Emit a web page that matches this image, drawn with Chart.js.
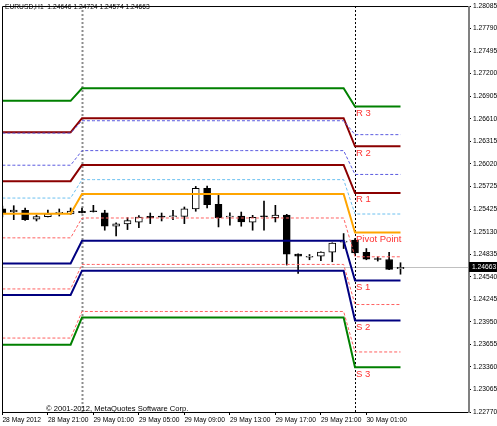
<!DOCTYPE html>
<html>
<head>
<meta charset="utf-8">
<script src="https://cdn.jsdelivr.net/npm/chart.js@4.4.1/dist/chart.umd.min.js"></script>
<style>
  html, body { margin: 0; padding: 0; background: #fff; }
  #chart { display: block; }
</style>
</head>
<body>
<canvas id="chart" width="497" height="426"></canvas>
<script>
const symbol = 'EURUSD,H1';
const copyright = '\u00a9 2001-2012, MetaQuotes Software Corp.';

// hourly bars, 28 May 17:00 .. 30 May 04:00
const opens  = [1.25431, 1.25388, 1.25411, 1.25293, 1.25327, 1.25371, 1.25362, 1.25398, 1.25395, 1.25379,
                1.25202, 1.25232, 1.25254, 1.25332, 1.25323, 1.25326, 1.25332, 1.25428, 1.25697, 1.25489,
                1.25323, 1.25336, 1.25254, 1.25330, 1.25314, 1.25349, 1.24837, 1.24796, 1.24811, 1.24863,
                1.24994, 1.25020, 1.24859, 1.24768, 1.24767, 1.24646];
const highs  = [1.25467, 1.25471, 1.25441, 1.25349, 1.25415, 1.25428, 1.25441, 1.25441, 1.25476, 1.25411,
                1.25245, 1.25314, 1.25343, 1.25375, 1.25375, 1.25411, 1.25454, 1.25723, 1.25727, 1.25606,
                1.25379, 1.25388, 1.25345, 1.25532, 1.25476, 1.25358, 1.24841, 1.24832, 1.24867, 1.24985,
                1.25106, 1.25041, 1.24910, 1.24802, 1.24859, 1.24724];
const lows   = [1.25323, 1.25288, 1.25278, 1.25271, 1.25323, 1.25336, 1.25356, 1.25375, 1.25388, 1.25150,
                1.25076, 1.25158, 1.25184, 1.25236, 1.25271, 1.25288, 1.25236, 1.25398, 1.25441, 1.25193,
                1.25215, 1.25202, 1.25150, 1.25150, 1.25258, 1.24694, 1.24585, 1.24763, 1.24750, 1.24737,
                1.24910, 1.24824, 1.24763, 1.24746, 1.24633, 1.24574];
const closes = [1.25375, 1.25415, 1.25288, 1.25327, 1.25366, 1.25379, 1.25401, 1.25379, 1.25392, 1.25202,
                1.25232, 1.25275, 1.25323, 1.25314, 1.25321, 1.25328, 1.25431, 1.25697, 1.25484, 1.25314,
                1.25332, 1.25258, 1.25319, 1.25326, 1.25349, 1.24837, 1.24811, 1.24800, 1.24863, 1.24981,
                1.25000, 1.24854, 1.24772, 1.24766, 1.24637, 1.24663];

// bars per day (28 May, 29 May, 30 May)
const dayBars = [7, 24, 5];

// daily pivot levels, one value per day
const r3    = [1.26844, 1.27008, 1.26769];
const m5    = [1.26421, 1.26583, 1.26401];
const r2    = [1.26431, 1.26617, 1.26248];
const m4    = [1.26001, 1.26192, 1.25880];
const r1    = [1.25792, 1.26005, 1.25636];
const m3    = [1.25571, 1.25812, 1.25362];
const pivot = [1.25366, 1.25623, 1.25119];
const m2    = [1.25050, 1.25310, 1.24802];
const s1    = [1.24715, 1.25011, 1.24490];
const m1    = [1.24381, 1.24702, 1.24177];
const s2    = [1.24303, 1.24620, 1.23969];
const m0    = [1.23738, 1.24086, 1.23556];
const s3    = [1.23652, 1.24008, 1.23356];

const xTickIdx = [0, 4, 8, 12, 16, 20, 24, 28, 32];
const xTickLabels = ['28 May 2012', '28 May 21:00', '29 May 01:00', '29 May 05:00', '29 May 09:00',
                     '29 May 13:00', '29 May 17:00', '29 May 21:00', '30 May 01:00'];
const yTickLabels = ['1.22770', '1.23065', '1.23360', '1.23655', '1.23950', '1.24245', '1.24540',
                     '1.24835', '1.25130', '1.25425', '1.25725', '1.26020', '1.26315', '1.26610',
                     '1.26905', '1.27200', '1.27495', '1.27790', '1.28085'];
const yTickVals = yTickLabels.map(Number);

const FONT = 'Liberation Sans, Arial, sans-serif';

const barDay = [];
dayBars.forEach((n, d) => { for (let k = 0; k < n; k++) barDay.push(d); });
const series = lv => barDay.map((d, i) => ({ x: i, y: lv[d] }));

function lvl(levels, color, width, dash) {
  return {
    type: 'line', data: series(levels), borderColor: color, borderWidth: width,
    borderDash: dash || [], pointRadius: 0, tension: 0, fill: false, order: 0
  };
}

const labelled = [
  ['R 3', r3], ['R 2', r2], ['R 1', r1], ['Pivot Point', pivot], ['S 1', s1], ['S 2', s2], ['S 3', s3]
];

const decor = {
  id: 'decor',
  beforeDatasetsDraw(chart) {
    const { ctx, chartArea: a, scales: { x, y } } = chart;
    ctx.save();
    // bid line
    const by = Math.round(y.getPixelForValue(closes[closes.length - 1])) + 0.5;
    ctx.strokeStyle = '#c0c0c0';
    ctx.lineWidth = 1;
    ctx.beginPath(); ctx.moveTo(a.left, by); ctx.lineTo(a.right, by); ctx.stroke();
    // period separators
    let start = 0;
    dayBars.slice(0, -1).forEach((n, k) => {
      start += n;
      const px = Math.round(x.getPixelForValue(start)) + 0.5;
      ctx.strokeStyle = k === 0 ? '#8c8c8c' : '#000';
      ctx.lineWidth = k === 0 ? 2 : 1;
      ctx.setLineDash([2, 2]);
      ctx.beginPath(); ctx.moveTo(px, a.top); ctx.lineTo(px, a.bottom); ctx.stroke();
    });
    ctx.restore();
  },
  afterDatasetsDraw(chart) {
    const { ctx, scales: { x, y } } = chart;
    const last = dayBars.length - 1;
    const lx = x.getPixelForValue(dayBars[0] + dayBars[1]) + 1;
    ctx.save();
    ctx.fillStyle = '#ff3030';
    ctx.font = '9.5px ' + FONT;
    ctx.textBaseline = 'top';
    labelled.forEach(([name, lv]) => ctx.fillText(name, lx, y.getPixelForValue(lv[last]) + 2));
    ctx.restore();
  },
  afterDraw(chart) {
    const { ctx, chartArea: a, scales: { y } } = chart;
    ctx.save();
    // frame
    ctx.strokeStyle = '#000';
    ctx.lineWidth = 1;
    ctx.beginPath();
    ctx.moveTo(a.right, a.top + 0.5); ctx.lineTo(a.left + 0.5, a.top + 0.5);
    ctx.lineTo(a.left + 0.5, a.bottom + 0.5); ctx.lineTo(a.right, a.bottom + 0.5);
    ctx.stroke();
    ctx.strokeStyle = '#808080';
    ctx.lineWidth = 2;
    ctx.beginPath(); ctx.moveTo(a.right + 1, a.top); ctx.lineTo(a.right + 1, a.bottom + 1); ctx.stroke();
    // price box
    const n = closes.length - 1;
    const by = Math.round(y.getPixelForValue(closes[n]));
    ctx.fillStyle = '#000';
    ctx.fillRect(a.right + 1, by - 5, 29, 10);
    ctx.fillStyle = '#fff';
    ctx.font = '6.7px ' + FONT;
    ctx.textBaseline = 'middle';
    ctx.fillText(closes[n].toFixed(5), a.right + 4, by + 0.5);
    // title
    ctx.fillStyle = '#000';
    ctx.fillText(symbol + '  ' + [opens[n], highs[n], lows[n], closes[n]].map(v => v.toFixed(5)).join(' '), 5, 7);
    // copyright
    ctx.font = '7.6px ' + FONT;
    ctx.fillText(copyright, 46, a.bottom - 3);
    ctx.restore();
  }
};

new Chart(document.getElementById('chart'), {
  type: 'bar',
  data: {
    datasets: [
      lvl(r3, '#008000', 2),
      lvl(m5, '#5a5ae0', 1, [3, 2]),
      lvl(r2, '#8b0000', 2),
      lvl(m4, '#5a5ae0', 1, [3, 2]),
      lvl(r1, '#8b0000', 2),
      lvl(m3, '#6cc0f0', 1, [3, 2]),
      lvl(pivot, '#ffa500', 2),
      lvl(m2, '#ff6060', 1, [3, 2]),
      lvl(s1, '#000080', 2),
      lvl(m1, '#ff6060', 1, [3, 2]),
      lvl(s2, '#000080', 2),
      lvl(m0, '#ff6060', 1, [3, 2]),
      lvl(s3, '#008000', 2),
      {
        type: 'bar',
        data: opens.map((o, i) => ({ x: i, y: [o, closes[i]] })),
        backgroundColor: opens.map((o, i) => closes[i] > o ? '#fff' : '#000'),
        borderColor: '#000', borderWidth: 1, borderSkipped: false,
        barThickness: 7, minBarLength: 1, grouped: false, order: 1
      },
      {
        type: 'bar',
        data: lows.map((l, i) => ({ x: i, y: [l, highs[i]] })),
        backgroundColor: '#000', borderWidth: 0,
        barThickness: 1, grouped: false, order: 2
      }
    ]
  },
  options: {
    responsive: false,
    animation: false,
    layout: { padding: { left: 2, top: 2, right: 0, bottom: 0 } },
    plugins: { legend: { display: false }, tooltip: { enabled: false } },
    scales: {
      x: {
        type: 'linear', position: 'bottom', min: -0.033, max: 40.934, offset: false,
        afterBuildTicks: s => { s.ticks = xTickIdx.map(v => ({ value: v })); },
        afterFit: s => { s.height = 14; },
        border: { display: false },
        grid: { offset: false, drawOnChartArea: false, drawTicks: true, tickLength: 3, color: '#000' },
        ticks: {
          autoSkip: false, maxRotation: 0, align: 'start', padding: 1, color: '#000',
          font: { family: FONT, size: 6.7 },
          callback: (v, i) => xTickLabels[i]
        }
      },
      y: {
        type: 'linear', position: 'right', min: yTickVals[0], max: yTickVals[yTickVals.length - 1],
        afterBuildTicks: s => { s.ticks = yTickVals.map(v => ({ value: v })); },
        afterFit: s => { s.width = 29; },
        border: { display: false },
        grid: { drawOnChartArea: false, drawTicks: true, tickLength: 3, color: '#000' },
        ticks: {
          autoSkip: false, padding: 2, color: '#000',
          font: { family: FONT, size: 6.7 },
          callback: (v, i) => yTickLabels[i]
        }
      }
    }
  },
  plugins: [decor]
});
</script>
</body>
</html>
